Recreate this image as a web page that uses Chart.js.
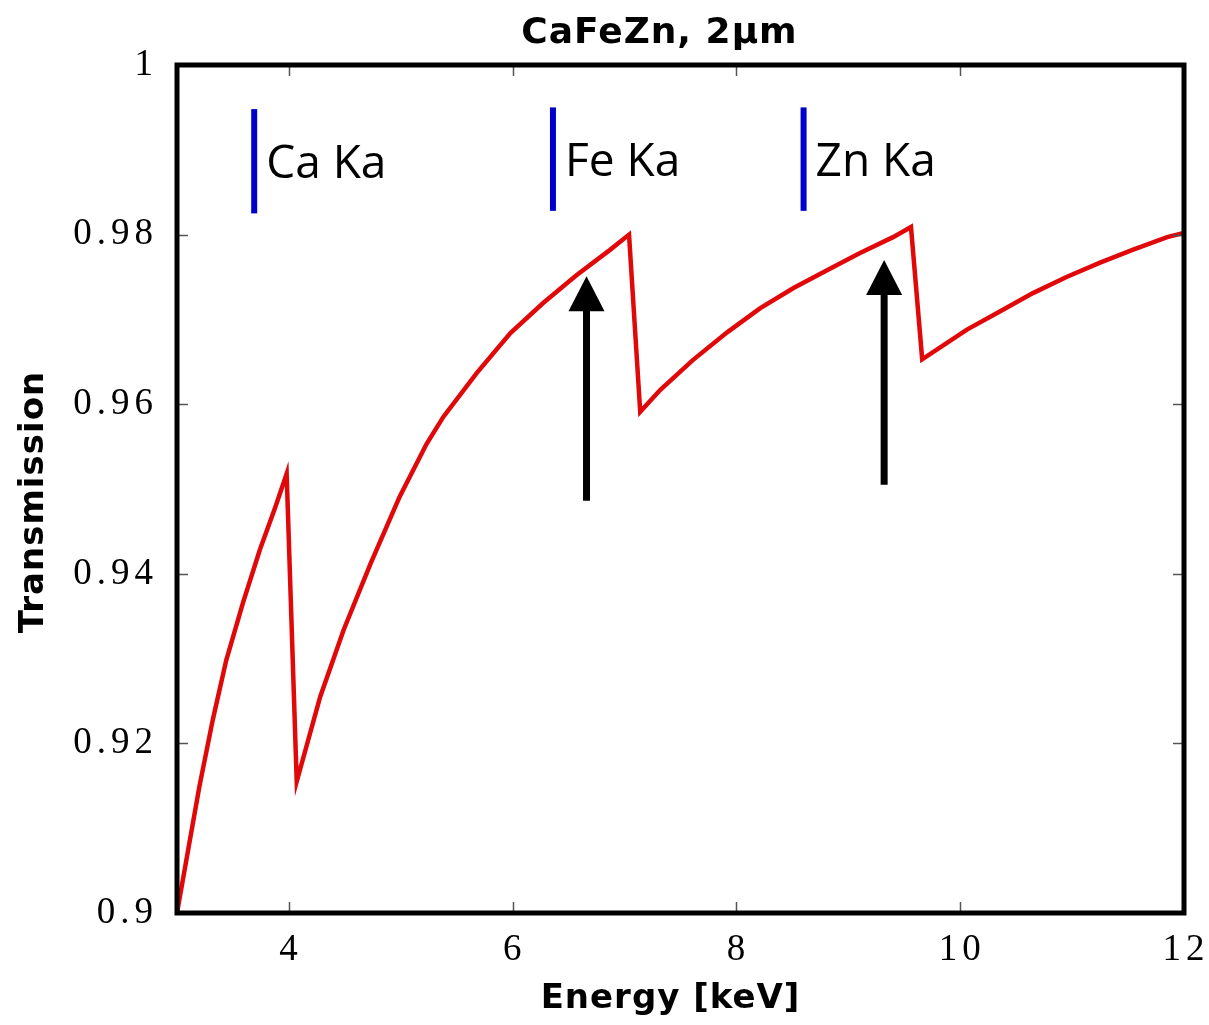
<!DOCTYPE html>
<html>
<head>
<meta charset="utf-8">
<script src="https://cdn.jsdelivr.net/npm/chart.js@4.4.1/dist/chart.umd.min.js"></script>
<style>
  html, body { margin: 0; padding: 0; background: #ffffff; }
  #wrap { width: 1209px; height: 1025px; position: relative; }
</style>
</head>
<body>
<div id="wrap"><canvas id="c"></canvas></div>
<script>
// ---- data ----
const energy = [3.00, 3.11, 3.20, 3.32, 3.44, 3.59, 3.74, 3.88, 3.98,
                4.07, 4.28, 4.49, 4.73, 4.99, 5.23, 5.38, 5.68, 5.98, 6.27, 6.57, 6.87, 7.04,
                7.14, 7.32, 7.61, 7.92, 8.21, 8.51, 8.81, 9.10, 9.40, 9.56,
                9.66, 10.06, 10.35, 10.65, 10.95, 11.25, 11.54, 11.85, 12.00];
const transmission = [0.9000, 0.9082, 0.9149, 0.9228, 0.9298, 0.9366, 0.9428, 0.9479, 0.9518,
                      0.9155, 0.9255, 0.9334, 0.9412, 0.9491, 0.9553, 0.9585, 0.9637, 0.9684, 0.9719, 0.9752, 0.9782, 0.9800,
                      0.9591, 0.9617, 0.9652, 0.9685, 0.9713, 0.9737, 0.9758, 0.9778, 0.9797, 0.9809,
                      0.9653, 0.9688, 0.9709, 0.9731, 0.9750, 0.9767, 0.9782, 0.9797, 0.9802];
const xTickValues = [4, 6, 8, 10, 12];
const yTickValues = [0.9, 0.92, 0.94, 0.96, 0.98, 1];
const lineNames = ['Ca Ka', 'Fe Ka', 'Zn Ka'];
const lineEnergy = [3.69, 6.36, 8.60];
const lineTop = [0.9948, 0.9950, 0.9950];
const lineBottom = [0.9825, 0.9828, 0.9828];
const arrowEnergy = [6.66, 9.32];
const arrowTail = [0.9486, 0.9505];
const arrowTip = [0.9751, 0.9770];

const titleText = 'CaFeZn, 2\u00b5m';
const xTitle = 'Energy [keV]';
const yTitle = 'Transmission';

// ---- datasets ----
const datasets = [{
  data: energy.map((e, i) => ({ x: e, y: transmission[i] })),
  borderColor: '#e00808',
  borderWidth: 4.5,
  pointRadius: 0,
  tension: 0,
  fill: false,
  borderJoinStyle: 'miter'
}];
lineEnergy.forEach((e, i) => {
  datasets.push({
    data: [{ x: e, y: lineBottom[i] }, { x: e, y: lineTop[i] }],
    borderColor: '#0000cc',
    borderWidth: 6,
    pointRadius: 0,
    borderCapStyle: 'butt',
    fill: false
  });
});

// ---- plugins ----
// wrap a draw method to apply letter spacing and a small shift
function wrapDraw(obj, method, spacing, dx, dy) {
  const orig = obj[method];
  obj[method] = function (...args) {
    const c = this.ctx;
    c.save();
    c.letterSpacing = spacing;
    c.translate(dx, dy);
    orig.apply(this, args);
    c.restore();
  };
}
const spacingPlugin = {
  id: 'textSpacing',
  beforeDraw(chart) {
    const sx = chart.scales.x, sy = chart.scales.y;
    if (!sx._wrapped) {
      wrapDraw(sx, 'drawLabels', '5px', 2, 0);
      wrapDraw(sx, 'drawTitle', '1px', -10, 0);
      sx._wrapped = true;
    }
    if (!sy._wrapped) {
      wrapDraw(sy, 'drawLabels', '5px', 0, 0);
      wrapDraw(sy, 'drawTitle', '1px', 0, 13);
      sy._wrapped = true;
    }
    const tb = chart.titleBlock;
    if (tb && !tb._wrapped) {
      wrapDraw(tb, 'draw', '1px', -21, 0);
      tb._wrapped = true;
    }
  }
};

const annotPlugin = {
  id: 'annot',
  afterDatasetsDraw(chart) {
    const ctx = chart.ctx;
    const xs = chart.scales.x, ys = chart.scales.y;
    ctx.save();
    // line labels
    ctx.fillStyle = '#000';
    ctx.font = '46px "Open Sans"';
    ctx.textAlign = 'left';
    ctx.textBaseline = 'alphabetic';
    lineNames.forEach((n, i) => {
      const px = xs.getPixelForValue(lineEnergy[i]);
      const py = (ys.getPixelForValue(lineTop[i]) + ys.getPixelForValue(lineBottom[i])) / 2;
      ctx.fillText(n, px + 12, py + 17);
    });
    // arrows
    ctx.fillStyle = '#000';
    ctx.strokeStyle = '#000';
    arrowEnergy.forEach((e, i) => {
      const px = xs.getPixelForValue(e);
      const y0 = ys.getPixelForValue(arrowTail[i]);
      const y1 = ys.getPixelForValue(arrowTip[i]);
      const headLen = 35, headW = 36;
      ctx.lineWidth = 7;
      ctx.lineCap = 'butt';
      ctx.beginPath();
      ctx.moveTo(px, y0);
      ctx.lineTo(px, y1 + headLen - 1);
      ctx.stroke();
      ctx.beginPath();
      ctx.moveTo(px, y1);
      ctx.lineTo(px - headW / 2, y1 + headLen);
      ctx.lineTo(px + headW / 2, y1 + headLen);
      ctx.closePath();
      ctx.fill();
    });
    ctx.restore();
  },
  afterDraw(chart) {
    const ctx = chart.ctx;
    const a = chart.chartArea;
    const xs = chart.scales.x, ys = chart.scales.y;
    ctx.save();
    // inner tick marks
    ctx.strokeStyle = '#555';
    ctx.lineWidth = 1.5;
    const tl = 11;
    xs.ticks.forEach(t => {
      if (t.value <= xs.min || t.value >= xs.max) return;
      const px = Math.round(xs.getPixelForValue(t.value)) + 0.5;
      ctx.beginPath();
      ctx.moveTo(px, a.bottom); ctx.lineTo(px, a.bottom - tl);
      ctx.moveTo(px, a.top); ctx.lineTo(px, a.top + tl);
      ctx.stroke();
    });
    ys.ticks.forEach(t => {
      if (t.value <= ys.min + 1e-9 || t.value >= ys.max - 1e-9) return;
      const py = Math.round(ys.getPixelForValue(t.value)) + 0.5;
      ctx.beginPath();
      ctx.moveTo(a.left, py); ctx.lineTo(a.left + tl, py);
      ctx.moveTo(a.right, py); ctx.lineTo(a.right - tl, py);
      ctx.stroke();
    });
    // frame
    ctx.strokeStyle = '#000';
    ctx.lineWidth = 5;
    ctx.strokeRect(a.left, a.top, a.right - a.left, a.bottom - a.top);
    ctx.restore();
  }
};

new Chart(document.getElementById('c'), {
  type: 'line',
  data: { datasets },
  plugins: [spacingPlugin, annotPlugin],
  options: {
    responsive: true,
    maintainAspectRatio: false,
    devicePixelRatio: 1,
    animation: false,
    events: [],
    layout: { padding: { left: 0, right: 25, top: 0, bottom: 0 } },
    plugins: {
      legend: { display: false },
      tooltip: { enabled: false },
      title: {
        display: true,
        text: titleText,
        fullSize: false,
        color: '#000',
        font: { family: '"DejaVu Sans"', size: 36, weight: 'bold', lineHeight: 1.2 },
        padding: { top: 12, bottom: 9.8 }
      }
    },
    scales: {
      x: {
        type: 'linear',
        min: 3, max: 12,
        afterBuildTicks: (axis) => { axis.ticks = xTickValues.map(v => ({ value: v })); },
        afterFit: (scale) => { scale.height = 112; scale.paddingLeft = 0; scale.paddingRight = 0; },
        grid: { display: false, drawTicks: false },
        border: { display: false },
        ticks: {
          color: '#000',
          padding: 15,
          maxRotation: 0,
          autoSkip: false,
          font: { family: '"Liberation Serif"', size: 37 },
          callback: (v) => String(v)
        },
        title: {
          display: true,
          text: xTitle,
          color: '#000',
          font: { family: '"DejaVu Sans"', size: 34, weight: 'bold', lineHeight: 1.2 },
          padding: { top: 0, bottom: 5 }
        }
      },
      y: {
        type: 'linear',
        min: 0.9, max: 1,
        afterBuildTicks: (axis) => { axis.ticks = yTickValues.map(v => ({ value: v })); },
        afterFit: (scale) => { scale.width = 177; scale.paddingTop = 0; scale.paddingBottom = 0; },
        grid: { display: false, drawTicks: false },
        border: { display: false },
        ticks: {
          color: '#000',
          padding: 19,
          autoSkip: false,
          font: { family: '"Liberation Serif"', size: 37 },
          callback: (v) => String(+v.toFixed(2))
        },
        title: {
          display: true,
          text: yTitle,
          color: '#000',
          font: { family: '"DejaVu Sans"', size: 34, weight: 'bold', lineHeight: 1.2 },
          padding: { top: 14, bottom: 0 }
        }
      }
    }
  }
});
</script>
</body>
</html>
